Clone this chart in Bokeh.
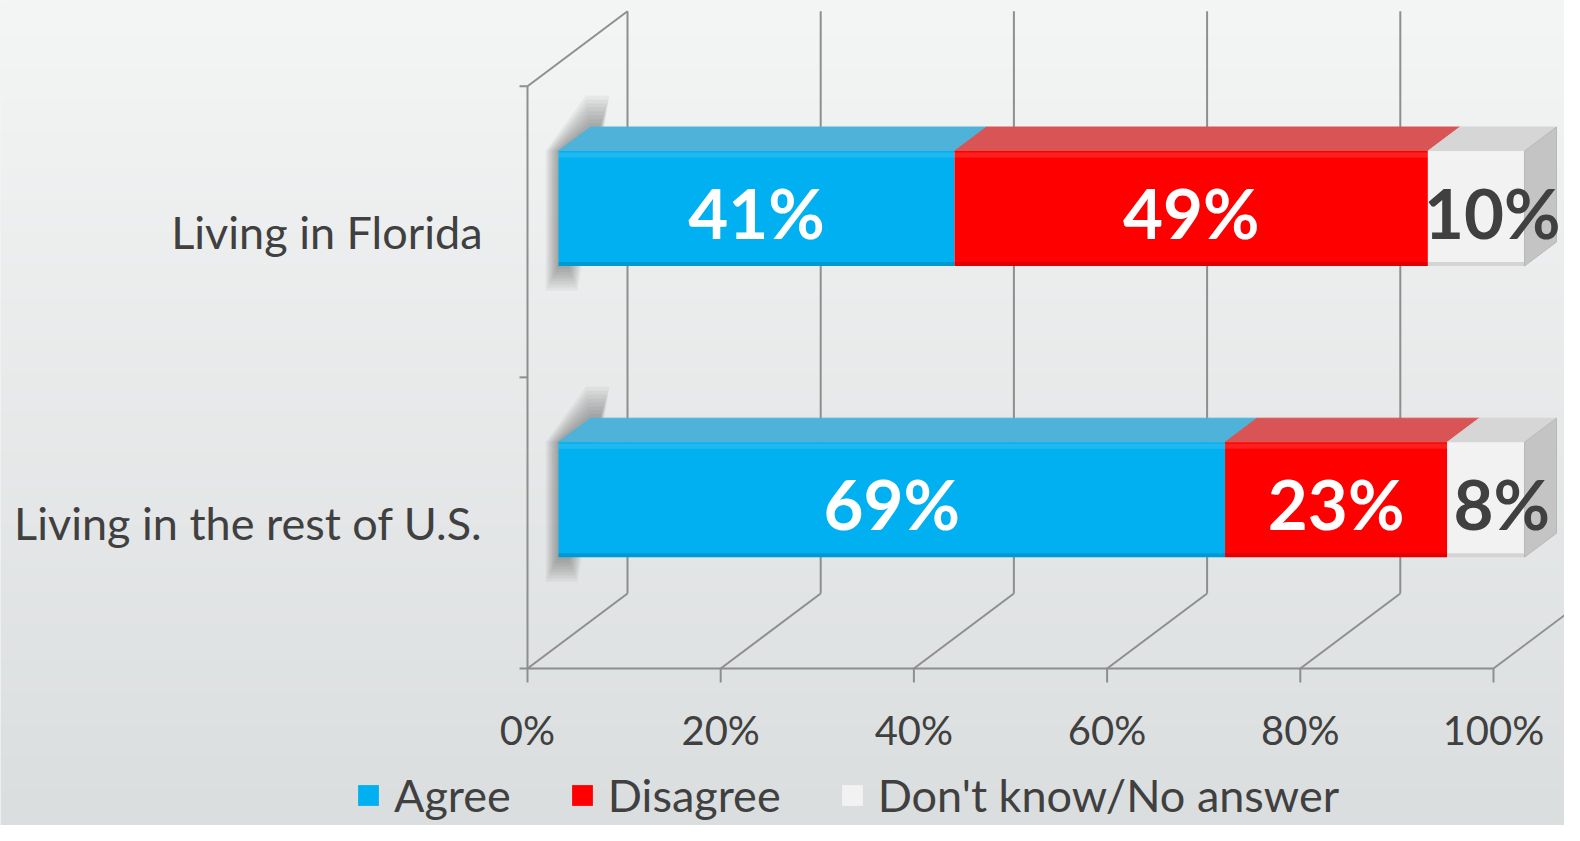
import numpy as np
from bokeh.plotting import figure
from bokeh.models import Range1d, ColumnDataSource, Legend, LegendItem
from bokeh.core.properties import value
from bokeh.embed import file_html
from bokeh.resources import INLINE

# ---------------- data ----------------
categories = ["Living in the rest of U.S.", "Living in Florida"]
series_names = ["Agree", "Disagree", "Don't know/No answer"]
agree = [69, 41]
disagree = [23, 49]
dont_know = [8, 10]
tick_values = [0, 20, 40, 60, 80, 100]
tick_labels = ["0%", "20%", "40%", "60%", "80%", "100%"]

front_colors = ["#00B0F0", "#FF0000", "#F2F2F2"]
top_colors = ["#4FB2D8", "#D95454", "#D6D6D6"]
side_color = "#C4C4C4"
label_colors = ["white", "white", "#404040"]

FONT = "Lato"
TEXT = "#404040"
GRID = "#8E8E8E"

# ---------------- geometry (pixel <-> data scale) ----------------
W, H = 1564, 825
X0_PX, PX_X = 527.0, 9.66
Y0_PX, PX_Y = 668.0, 291.15
x_start = -X0_PX / PX_X
x_end = (W - X0_PX) / PX_X
y_start = -(H - Y0_PX) / PX_Y
y_end = Y0_PX / PX_Y

DX = 100.0 / PX_X   # x shift for full depth
DY = 75.0 / PX_Y    # y shift for full depth
D_FRONT, D_BACK = 0.31, 0.63
HALF = 0.1975       # half bar thickness in category units


def P(x, y, d):
    return x + d * DX, y + d * DY


p = figure(width=W, height=H, output_backend="svg", toolbar_location=None,
           x_range=Range1d(x_start, x_end), y_range=Range1d(y_start, y_end),
           x_axis_location=None, y_axis_location=None, min_border=0,
           outline_line_color=None)
p.grid.visible = False
p.background_fill_color = "#E8EAEB"
p.border_fill_color = "#E8EAEB"

# background gradient
n = 256
t = np.linspace(0, 1, n)[:, None]
top_c = np.array([0xF4, 0xF5, 0xF5], dtype=float)
bot_c = np.array([0xDB, 0xDE, 0xDF], dtype=float)
cols = bot_c * (1 - t) + top_c * t
img = np.empty((n, 1), dtype=np.uint32)
view = img.view(dtype=np.uint8).reshape((n, 1, 4))
view[:, 0, 0] = cols[:, 0].astype(np.uint8)
view[:, 0, 1] = cols[:, 1].astype(np.uint8)
view[:, 0, 2] = cols[:, 2].astype(np.uint8)
view[:, 0, 3] = 255
p.image_rgba(image=[img], x=x_start, y=y_start, dw=x_end - x_start, dh=y_end - y_start)

# ---------------- walls / grid ----------------
n_cat = len(categories)
xs0, ys0, xs1, ys1 = [], [], [], []
for tv in tick_values:
    bx0, by0 = P(tv, 0, 1)
    bx1, by1 = P(tv, n_cat, 1)
    xs0 += [bx0]; ys0 += [by0]; xs1 += [bx1]; ys1 += [by1]
    fx0, fy0 = P(tv, 0, 0)
    xs0 += [fx0]; ys0 += [fy0]; xs1 += [bx0]; ys1 += [by0]
    xs0 += [tv]; ys0 += [0]; xs1 += [tv]; ys1 += [-14 / PX_Y]
xs0 += [tick_values[0]]; ys0 += [0]; xs1 += [tick_values[-1]]; ys1 += [0]
xs0 += [0]; ys0 += [0]; xs1 += [0]; ys1 += [n_cat]
tx, ty = P(0, n_cat, 1)
xs0 += [0]; ys0 += [n_cat]; xs1 += [tx]; ys1 += [ty]
for k in range(n_cat + 1):
    xs0 += [-8 / PX_X]; ys0 += [k]; xs1 += [0]; ys1 += [k]
p.segment(x0=xs0, y0=ys0, x1=xs1, y1=ys1, line_color=GRID, line_width=2)

# ---------------- bars ----------------
values = [agree, disagree, dont_know]
centers = [i + 0.5 for i in range(n_cat)]

# soft shadow at the left end of each bar
for g in [2.4, 2.1, 1.8, 1.5, 1.2, 0.9, 0.6, 0.3]:
    sx, sy = [], []
    for c in centers:
        pts = [P(-0.55 * g, c - HALF - 0.035 * g, D_FRONT),
               P(-0.55 * g, c + HALF, D_FRONT),
               P(-0.2 * g, c + HALF + 0.045 * g, D_BACK),
               P(1.0 + 0.4 * g, c + HALF + 0.045 * g, D_BACK),
               P(1.0 + 0.4 * g, c - HALF - 0.035 * g, D_FRONT)]
        sx.append([q[0] for q in pts]); sy.append([q[1] for q in pts])
    p.patches(xs=sx, ys=sy, fill_color="#303030", fill_alpha=0.05, line_color=None)

front_renderers = []
lab_x, lab_y, lab_t, lab_c = [], [], [], []
for si, vals in enumerate(values):
    left = [sum(v[i] for v in values[:si]) for i in range(n_cat)]
    right = [left[i] + vals[i] for i in range(n_cat)]
    # top faces
    txs, tys = [], []
    for i, c in enumerate(centers):
        pts = [P(left[i], c + HALF, D_FRONT), P(right[i], c + HALF, D_FRONT),
               P(right[i], c + HALF, D_BACK), P(left[i], c + HALF, D_BACK)]
        txs.append([q[0] for q in pts]); tys.append([q[1] for q in pts])
    p.patches(xs=txs, ys=tys, fill_color=top_colors[si], line_color=top_colors[si],
              line_width=1)
    # front faces
    src = ColumnDataSource(dict(
        left=[P(l, 0, D_FRONT)[0] for l in left],
        right=[P(r, 0, D_FRONT)[0] for r in right],
        bottom=[P(0, c - HALF, D_FRONT)[1] for c in centers],
        top=[P(0, c + HALF, D_FRONT)[1] for c in centers]))
    r = p.quad(left="left", right="right", bottom="bottom", top="top", source=src,
               fill_color=front_colors[si], line_color=None)
    front_renderers.append(r)
    # subtle bottom shade and top highlight
    p.segment(x0=src.data["left"], x1=src.data["right"],
              y0=[b + 2 / PX_Y for b in src.data["bottom"]],
              y1=[b + 2 / PX_Y for b in src.data["bottom"]],
              line_color="#000000", line_alpha=0.12, line_width=4)
    p.segment(x0=src.data["left"], x1=src.data["right"],
              y0=[tp - 4 / PX_Y for tp in src.data["top"]],
              y1=[tp - 4 / PX_Y for tp in src.data["top"]],
              line_color="#FFFFFF", line_alpha=0.12, line_width=5)
    last = si == len(values) - 1
    if last:
        cxs, cys = [], []
        for i, c in enumerate(centers):
            pts = [P(right[i], c - HALF, D_FRONT), P(right[i], c + HALF, D_FRONT),
                   P(right[i], c + HALF, D_BACK), P(right[i], c - HALF, D_BACK)]
            cxs.append([q[0] for q in pts]); cys.append([q[1] for q in pts])
        p.patches(xs=cxs, ys=cys, fill_color=side_color, line_color="#B8B8B8",
                  line_width=1)
    for i, c in enumerate(centers):
        mx = (left[i] + right[i]) / 2 + D_FRONT * DX
        if last:
            mx += (D_BACK - D_FRONT) * DX / 2
        lab_x.append(mx)
        lab_y.append(c + D_FRONT * DY - 4 / PX_Y)
        lab_t.append(f"{vals[i]}%")
        lab_c.append(label_colors[si])

p.text(x=lab_x, y=lab_y, text=lab_t, text_color=lab_c, text_font=value(FONT),
       text_font_style="bold", text_font_size="69px", text_align="center",
       text_baseline="middle")

# category labels
p.text(x=[-45 / PX_X] * n_cat, y=centers, text=categories, text_color=TEXT,
       text_font=value(FONT), text_font_size="45px", text_align="right",
       text_baseline="middle")

# tick labels
p.text(x=tick_values, y=[-61 / PX_Y] * len(tick_values), text=tick_labels,
       text_color=TEXT, text_font=value(FONT), text_font_size="40px",
       text_align="center", text_baseline="middle")

# legend
legend = Legend(items=[LegendItem(label=s, renderers=[r])
                       for s, r in zip(series_names, front_renderers)],
                orientation="horizontal", location=(355, 3),
                label_text_font=FONT, label_text_font_size="45px",
                label_text_color=TEXT, glyph_width=26, glyph_height=26,
                label_standoff=13, spacing=58, padding=0, margin=0,
                background_fill_alpha=0, border_line_color=None)
p.add_layout(legend)

open("out.html", "w").write(file_html(p, INLINE))
